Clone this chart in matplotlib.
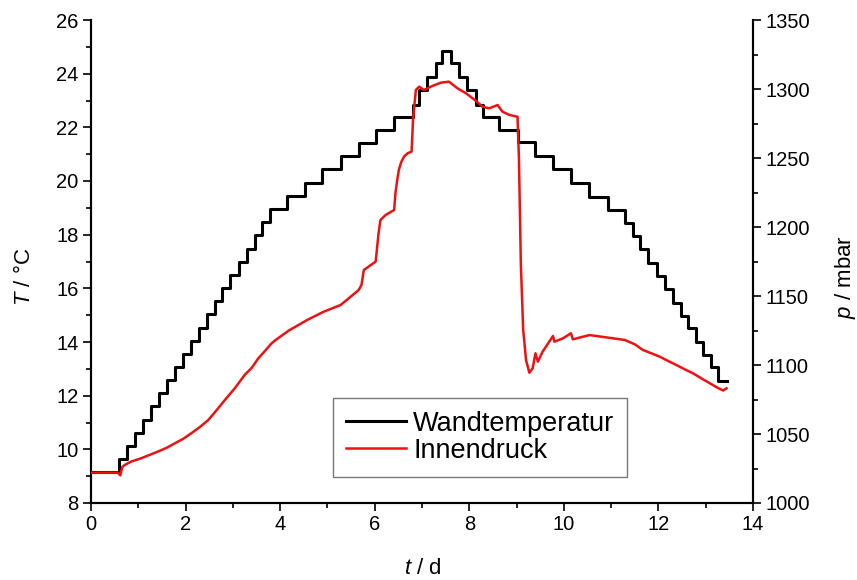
import matplotlib
matplotlib.use("Agg")
import matplotlib.pyplot as plt
from matplotlib.ticker import MultipleLocator

plt.rcParams["font.family"] = ["Liberation Sans", "DejaVu Sans"]
plt.rcParams["mathtext.fontset"] = "custom"
plt.rcParams["mathtext.rm"] = "Liberation Sans"
plt.rcParams["mathtext.it"] = "Liberation Sans:italic"

# Wall temperature: switching times (d) and the level held after each switch (°C)
t_wall = [0.00, 0.60, 0.77, 0.94, 1.10, 1.27, 1.44, 1.61, 1.78, 1.94, 2.11,
          2.28, 2.45, 2.62, 2.78, 2.95, 3.12, 3.29, 3.46, 3.62, 3.79, 4.14,
          4.53, 4.89, 5.28, 5.66, 6.02, 6.41, 6.80, 6.94, 7.11, 7.29, 7.43,
          7.61, 7.79, 7.96, 8.14, 8.28, 8.63, 9.02, 9.38, 9.77, 10.15, 10.54,
          10.93, 11.29, 11.46, 11.62, 11.79, 11.96, 12.13, 12.30, 12.47, 12.63,
          12.79, 12.95, 13.12, 13.27, 13.44]
T_wall = [9.15, 9.64, 10.13, 10.62, 11.11, 11.60, 12.09, 12.58, 13.07, 13.56,
          14.05, 14.54, 15.03, 15.52, 16.01, 16.50, 16.99, 17.48, 17.97, 18.46,
          18.95, 19.44, 19.94, 20.44, 20.93, 21.41, 21.90, 22.37, 22.83, 23.39,
          23.89, 24.39, 24.85, 24.39, 23.89, 23.39, 22.83, 22.37, 21.90, 21.47,
          20.93, 20.44, 19.92, 19.42, 18.92, 18.45, 17.95, 17.46, 16.96, 16.46,
          15.96, 15.47, 14.97, 14.51, 14.01, 13.52, 13.06, 12.56, 12.56]

# Internal pressure (mbar)
t_press = [0.00, 0.57, 0.62, 0.66, 0.71, 0.85, 1.06, 1.25, 1.41, 1.60, 1.77,
           1.95, 2.12, 2.30, 2.48, 2.65, 2.83, 3.04, 3.25, 3.40, 3.54, 3.70,
           3.82, 3.90, 4.18, 4.57, 4.92, 5.28, 5.45, 5.66, 5.72, 5.77, 5.90,
           6.02, 6.05, 6.08, 6.12, 6.23, 6.41, 6.44, 6.48, 6.51, 6.56, 6.62,
           6.70, 6.78, 6.81, 6.87, 6.94, 7.04, 7.22, 7.40, 7.57, 7.75, 7.93,
           8.10, 8.28, 8.42, 8.60, 8.70, 8.85, 9.02, 9.05, 9.09, 9.14, 9.20,
           9.27, 9.34, 9.40, 9.45, 9.55, 9.77, 9.80, 9.98, 10.15, 10.19, 10.54,
           10.90, 11.29, 11.50, 11.67, 11.85, 12.03, 12.20, 12.38, 12.55,
           12.73, 12.90, 13.09, 13.25, 13.37, 13.44]
p_press = [1022.0, 1022.0, 1020.0, 1026.0, 1027.5, 1030.0, 1032.4, 1035.0,
           1037.2, 1040.0, 1043.2, 1046.5, 1050.5, 1055.0, 1060.1, 1067.0,
           1074.6, 1083.1, 1092.8, 1098.0, 1104.9, 1111.0, 1115.7, 1118.0,
           1124.9, 1132.6, 1138.6, 1143.5, 1148.3, 1154.3, 1158.0, 1168.8,
           1172.0, 1174.9, 1185.0, 1195.0, 1205.0, 1208.7, 1212.3, 1225.0,
           1235.0, 1241.3, 1247.0, 1251.0, 1253.5, 1254.6, 1277.5, 1299.3,
           1301.7, 1299.3, 1302.2, 1304.6, 1305.3, 1300.5, 1296.9, 1292.5,
           1287.2, 1286.0, 1288.4, 1283.6, 1281.2, 1279.9, 1250.0, 1173.7,
           1125.4, 1103.6, 1094.4, 1097.6, 1108.5, 1102.4, 1109.6, 1121.0,
           1116.9, 1119.3, 1123.0, 1118.6, 1121.7, 1120.0, 1118.1, 1115.0,
           1110.9, 1108.5, 1106.0, 1103.0, 1100.0, 1097.0, 1094.0, 1090.5,
           1086.7, 1083.5, 1081.5, 1083.1]

fig = plt.figure(figsize=(8.57, 5.80), dpi=100)
ax = fig.add_axes([91 / 857, 1 - 503 / 580, 662 / 857, 483 / 580])
ax2 = ax.twinx()

l1, = ax.plot(t_wall, T_wall, drawstyle="steps-post", color="black",
              lw=2.2, label="Wandtemperatur", zorder=3)
l2, = ax2.plot(t_press, p_press, color="#ee1111", lw=1.8,
               label="Innendruck", zorder=3)

ax.set_xlim(0, 14)
ax.set_ylim(8, 26)
ax2.set_ylim(1000, 1350)

ax.xaxis.set_major_locator(MultipleLocator(2))
ax.xaxis.set_minor_locator(MultipleLocator(1))
ax.yaxis.set_major_locator(MultipleLocator(2))
ax.yaxis.set_minor_locator(MultipleLocator(1))
ax2.yaxis.set_major_locator(MultipleLocator(50))
ax2.yaxis.set_minor_locator(MultipleLocator(25))

for a in (ax, ax2):
    a.spines["top"].set_visible(False)
    for s in ("left", "right", "bottom"):
        a.spines[s].set_linewidth(1.5)
    a.tick_params(which="major", direction="out", length=6, width=1.2,
                  labelsize=14.5, pad=3)
    a.tick_params(which="minor", direction="out", length=3.5, width=1.2)

fig.text(24 / 857, 1 - 277 / 580, r"$\mathit{T}$ / °C", rotation=90,
         ha="center", va="center", fontsize=16)
fig.text(845 / 857, 1 - 277 / 580, r"$\mathit{p}$ / mbar", rotation=90,
         ha="center", va="center", fontsize=16)
fig.text(423 / 857, 1 - 569 / 580, r"$\mathit{t}$ / d",
         ha="center", va="center", fontsize=16)

leg = ax2.legend([l1, l2], ["Wandtemperatur", "Innendruck"],
                 loc="lower left", bbox_to_anchor=(0.366, 0.054),
                 fontsize=19.5, frameon=True, fancybox=False,
                 handlelength=2.2, handletextpad=0.27, borderpad=0.48,
                 labelspacing=0.05, borderaxespad=0)
leg.get_frame().set_edgecolor("#555555")
leg.get_frame().set_linewidth(1.0)

fig.savefig("out.png", dpi=100)
